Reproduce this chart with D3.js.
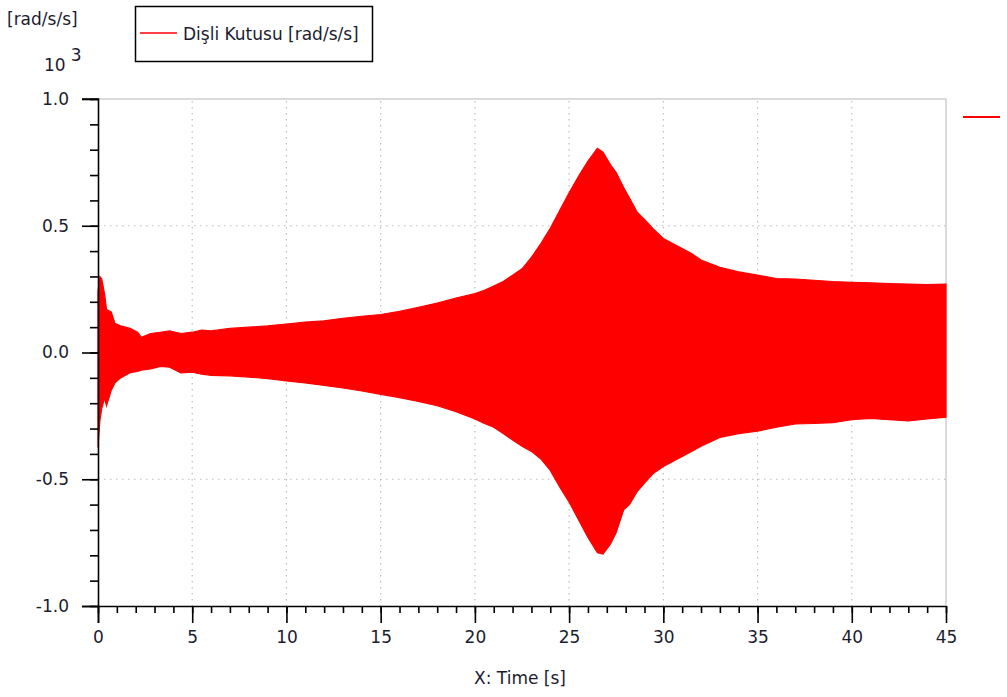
<!DOCTYPE html>
<html>
<head>
<meta charset="utf-8">
<script src="https://cdn.jsdelivr.net/npm/d3@7"></script>
<style>
  html, body { margin: 0; padding: 0; background: #fff; }
  svg text { font-family: "DejaVu Sans", sans-serif; fill: #1c1c30; }
</style>
</head>
<body>
<svg id="chart" width="1007" height="697"></svg>
<script>
// Gearbox angular acceleration envelope (values in 10^3 rad/s/s)
const times = [0, 0.1, 0.2, 0.35, 0.45, 0.7, 0.9, 1.2, 1.7, 2.1, 2.3, 2.8, 3.3, 3.8, 4.4, 5.0, 5.5, 6, 7, 8, 9, 10, 11, 12, 13, 14, 15, 16, 17, 18, 19, 20, 20.5, 21, 21.5, 22, 22.5, 23, 23.5, 24, 24.5, 25, 25.5, 26, 26.5, 26.8, 27.2, 27.5, 27.9, 28.2, 28.6, 29, 29.5, 30, 30.5, 31, 31.5, 32, 33, 34, 35, 36, 37, 38, 39, 40, 41, 42, 43, 44, 45];
const upper = [0.24, 0.30, 0.29, 0.23, 0.17, 0.16, 0.115, 0.105, 0.095, 0.08, 0.06, 0.075, 0.08, 0.085, 0.075, 0.08, 0.088, 0.085, 0.095, 0.10, 0.105, 0.112, 0.12, 0.125, 0.135, 0.143, 0.15, 0.162, 0.178, 0.195, 0.215, 0.232, 0.245, 0.262, 0.28, 0.305, 0.33, 0.375, 0.43, 0.49, 0.56, 0.63, 0.695, 0.755, 0.805, 0.79, 0.74, 0.71, 0.65, 0.61, 0.555, 0.525, 0.485, 0.45, 0.43, 0.41, 0.39, 0.365, 0.336, 0.318, 0.305, 0.292, 0.29, 0.285, 0.28, 0.277, 0.275, 0.272, 0.27, 0.268, 0.27];
const lower = [-0.375, -0.27, -0.22, -0.18, -0.21, -0.15, -0.12, -0.10, -0.08, -0.075, -0.07, -0.065, -0.055, -0.058, -0.08, -0.078, -0.085, -0.09, -0.092, -0.097, -0.103, -0.112, -0.12, -0.13, -0.14, -0.152, -0.165, -0.178, -0.193, -0.21, -0.233, -0.262, -0.28, -0.295, -0.32, -0.345, -0.37, -0.39, -0.42, -0.465, -0.53, -0.59, -0.66, -0.73, -0.79, -0.795, -0.755, -0.71, -0.62, -0.60, -0.55, -0.515, -0.475, -0.45, -0.43, -0.41, -0.39, -0.37, -0.335, -0.32, -0.31, -0.295, -0.282, -0.28, -0.277, -0.265, -0.26, -0.265, -0.27, -0.262, -0.255];

const xMajorTicks = [0, 5, 10, 15, 20, 25, 30, 35, 40, 45];
const yMajorTicks = [-1.0, -0.5, 0.0, 0.5, 1.0];
const seriesName = "Dişli Kutusu [rad/s/s]";
const yUnit = "[rad/s/s]";
const xTitle = "X: Time [s]";

const svg = d3.select("#chart");
const plotLeft = 98, plotRight = 946, plotTop = 99, plotBottom = 606;
const fontSize = 17;

const x = d3.scaleLinear().domain([0, 45]).range([plotLeft, plotRight]);
const y = d3.scaleLinear().domain([-1, 1]).range([plotBottom, plotTop]);

// frame (top and right edges)
svg.append("path")
  .attr("d", `M${plotLeft},${plotTop}H${plotRight}V${plotBottom}`)
  .attr("fill", "none").attr("stroke", "#cfcfcf").attr("stroke-width", 1.5);

// dotted grid
const grid = svg.append("g").attr("stroke", "#bdbdbd").attr("stroke-width", 1.2)
  .attr("stroke-dasharray", "1.5,4.5");
xMajorTicks.filter(d => d > 0 && d < 45).forEach(d => {
  grid.append("line").attr("x1", x(d)).attr("x2", x(d)).attr("y1", plotTop + 2).attr("y2", plotBottom);
});
yMajorTicks.filter(d => d > -1 && d < 1).forEach(d => {
  grid.append("line").attr("x1", plotLeft).attr("x2", plotRight).attr("y1", y(d)).attr("y2", y(d));
});

// signal band
const data = times.map((t, i) => ({ t, hi: upper[i], lo: lower[i] }));
const area = d3.area()
  .x(d => x(d.t))
  .y0(d => y(d.lo))
  .y1(d => y(d.hi))
  .curve(d3.curveLinear);
svg.append("path").datum(data)
  .attr("d", area)
  .attr("fill", "#ff0000")
  .attr("stroke", "#ff0000").attr("stroke-width", 1.2).attr("stroke-linejoin", "miter");

// x axis
const xAxis = svg.append("g").attr("transform", `translate(0,${plotBottom})`);
xAxis.call(d3.axisBottom(x).tickValues(d3.range(0, 46, 1)).tickSize(7).tickFormat(""));
xAxis.selectAll(".tick line").attr("stroke", "#000").attr("stroke-width", 1.6);
xAxis.select(".domain").attr("stroke", "#000").attr("stroke-width", 1.6)
  .attr("d", `M${plotLeft - 16},0.5H${plotRight}`);
const xMaj = svg.append("g").attr("transform", `translate(0,${plotBottom})`);
xMaj.call(d3.axisBottom(x).tickValues(xMajorTicks).tickSize(17).tickPadding(8).tickFormat(d3.format("d")));
xMaj.select(".domain").remove();
xMaj.selectAll(".tick line").attr("stroke", "#000").attr("stroke-width", 1.6);
xMaj.selectAll(".tick text").attr("font-size", fontSize).attr("fill", "#1c1c30")
  .style("font-family", '"DejaVu Sans", sans-serif');

// y axis
const yFmt = d => d3.format(".1f")(d).replace("\u2212", "-");
const yAxis = svg.append("g").attr("transform", `translate(${plotLeft},0)`);
yAxis.call(d3.axisLeft(y).tickValues(d3.range(-10, 11, 1).map(v => v / 10)).tickSize(8).tickFormat(""));
yAxis.selectAll(".tick line").attr("stroke", "#000").attr("stroke-width", 1.6);
yAxis.select(".domain").attr("stroke", "#000").attr("stroke-width", 1.6)
  .attr("d", `M-16,${plotTop}H0.5V${plotBottom + 17}`);
const yMaj = svg.append("g").attr("transform", `translate(${plotLeft},0)`);
yMaj.call(d3.axisLeft(y).tickValues(yMajorTicks).tickSize(16).tickPadding(13).tickFormat(yFmt));
yMaj.select(".domain").remove();
yMaj.selectAll(".tick line").attr("stroke", "#000").attr("stroke-width", 1.6);
yMaj.selectAll(".tick text").attr("font-size", fontSize).attr("fill", "#1c1c30")
  .style("font-family", '"DejaVu Sans", sans-serif');

// unit labels
svg.append("text").attr("x", 7).attr("y", 25).attr("font-size", fontSize).text(yUnit);
const exp = svg.append("text").attr("x", 44).attr("y", 71).attr("font-size", fontSize);
exp.append("tspan").text("10");
exp.append("tspan").attr("dx", 5).attr("dy", -10).text("3");

// x title
svg.append("text").attr("x", 520).attr("y", 684).attr("text-anchor", "middle")
  .attr("font-size", fontSize).text(xTitle);

// legend
svg.append("rect").attr("x", 135.5).attr("y", 6.5).attr("width", 237).attr("height", 55)
  .attr("fill", "#fff").attr("stroke", "#000").attr("stroke-width", 1.5);
svg.append("line").attr("x1", 140).attr("x2", 177).attr("y1", 33).attr("y2", 33)
  .attr("stroke", "#ff0000").attr("stroke-width", 1.5);
svg.append("text").attr("x", 183).attr("y", 40).attr("font-size", fontSize).text(seriesName);

// side marker
svg.append("line").attr("x1", 963).attr("x2", 1000).attr("y1", 117).attr("y2", 117)
  .attr("stroke", "#ff0000").attr("stroke-width", 2);
</script>
</body>
</html>
